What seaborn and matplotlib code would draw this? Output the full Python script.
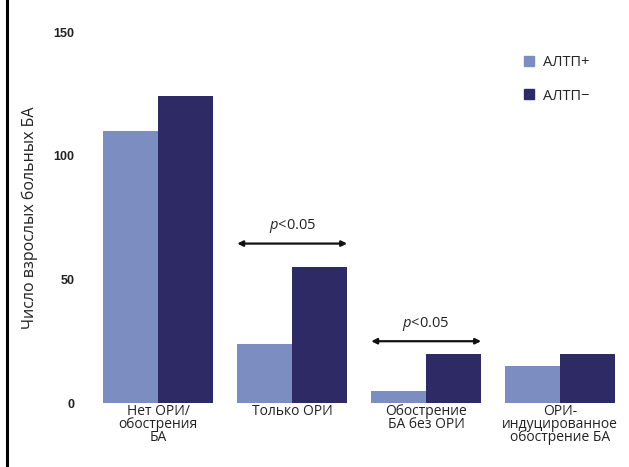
import matplotlib
matplotlib.use("Agg")
import matplotlib.pyplot as plt
import seaborn as sns
import pandas as pd
from matplotlib.lines import Line2D

categories = ["Нет ОРИ/\nобострения\nБА", "Только ОРИ", "Обострение\nБА без ОРИ", "ОРИ-\nиндуцированное\nобострение БА"]
series_names = ["АЛТП+", "АЛТП−"]
values_pos = [110, 24, 5, 15]
values_neg = [124, 55, 20, 20]
y_ticks = [0, 50, 100, 150]
y_label = "Число взрослых больных БА"
sig_label = "$p$<0.05"

colors = ["#7b8dc1", "#2d2a66"]
text_font = ["Open Sans", "DejaVu Sans"]

df = pd.DataFrame({
    "group": categories * 2,
    "series": [series_names[0]] * 4 + [series_names[1]] * 4,
    "count": values_pos + values_neg,
})

sns.set_theme(style="white")
plt.rcParams["font.family"] = ["Liberation Sans", "DejaVu Sans"]
plt.rcParams["mathtext.fontset"] = "custom"
plt.rcParams["mathtext.it"] = "Open Sans:italic"

fig = plt.figure(figsize=(6.29, 4.67), dpi=100)
ax = fig.add_axes([0.145, 0.137, 0.852, 0.794])

sns.barplot(data=df, x="group", y="count", hue="series", palette=colors,
            width=0.82, saturation=1, linewidth=0, ax=ax, legend=False)

ax.set_xlim(-0.5, 3.5)
ax.set_ylim(0, 150)
ax.set_yticks(y_ticks)
ax.set_yticklabels([str(t) for t in y_ticks], fontsize=9, color="#222222",
                   fontweight="bold")
ax.tick_params(axis="x", length=0, pad=1)
ax.tick_params(axis="y", pad=12, length=0)
ax.set_xticks(range(len(categories)))
ax.set_xticklabels(categories, family=text_font, fontsize=10, color="#222222",
                   linespacing=0.78)
ax.set_xlabel("")
ax.set_ylabel(y_label, family=text_font, fontsize=11.5, color="#222222", labelpad=11)
for s in ax.spines.values():
    s.set_visible(False)

# significance arrows between paired bars
for gi, ypos in [(1, 64.5), (2, 25)]:
    ax.annotate("", xy=(gi - 0.41, ypos), xytext=(gi + 0.41, ypos),
                arrowprops=dict(arrowstyle="<|-|>", color="#111111", lw=1.6,
                                mutation_scale=8, shrinkA=0, shrinkB=0))
    ax.text(gi, ypos + 3.5, sig_label, ha="center", va="bottom", fontsize=10.5,
            color="#222222", family=text_font)

handles = [Line2D([0], [0], marker="s", linestyle="", markersize=7,
                  markerfacecolor=c, markeredgecolor=c) for c in colors]
ax.legend(handles, series_names, loc="upper right", bbox_to_anchor=(0.955, 0.975),
          frameon=False, prop={"family": text_font, "size": 10.5},
          labelspacing=1.3, handletextpad=0.5, handlelength=1.0)

# left frame rule
fig.add_artist(Line2D([7 / 629, 7 / 629], [0, 1], color="black", lw=2.2,
                      transform=fig.transFigure))

fig.savefig("out.png", dpi=100)
